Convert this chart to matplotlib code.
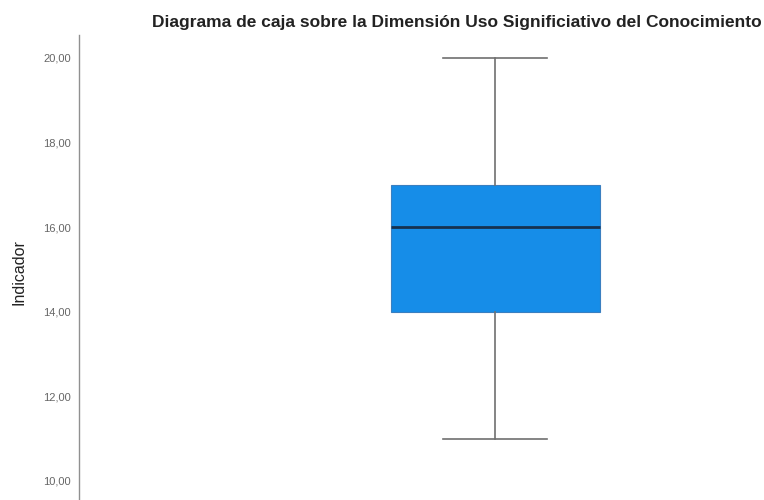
import matplotlib
matplotlib.use("Agg")
import matplotlib.pyplot as plt

# box summary
whisker_low = 11.0
q1 = 14.0
median = 16.0
q3 = 17.0
whisker_high = 20.0

yticks = [10, 12, 14, 16, 18, 20]
ytick_labels = ["10,00", "12,00", "14,00", "16,00", "18,00", "20,00"]

plt.rcParams["font.family"] = ["Liberation Sans", "DejaVu Sans"]

fig = plt.figure(figsize=(7.64, 5.0), dpi=100)
ax = fig.add_axes([79 / 764, 0.0, 1 - 79 / 764, 0.93])

stats = [dict(whislo=whisker_low, q1=q1, med=median, q3=q3, whishi=whisker_high, fliers=[])]
ax.bxp(stats, positions=[1], widths=0.5, capwidths=0.25, patch_artist=True,
       boxprops=dict(facecolor="#168de8", edgecolor="#3a7fc0", linewidth=0.8),
       medianprops=dict(color="#16314f", linewidth=2.0),
       whiskerprops=dict(color="#707070", linewidth=1.2),
       capprops=dict(color="#707070", linewidth=1.2))

ax.set_xlim(0, 1.645)
ax.set_ylim(9.55, 20.54)
ax.set_yticks(yticks)
ax.set_yticklabels(ytick_labels, fontsize=8, color="#666666")
ax.tick_params(axis="y", length=0, pad=6)
ax.set_xticks([])
for side in ["top", "right", "bottom"]:
    ax.spines[side].set_visible(False)
ax.spines["left"].set_color("#909090")
ax.spines["left"].set_linewidth(1.0)

ax.set_ylabel("Indicador", fontsize=11.5, color="#222222")
ax.yaxis.set_label_coords(-0.077, 0.49)
fig.text(0.598, 0.955, "Diagrama de caja sobre la Dimensión Uso Significiativo del Conocimiento",
         ha="center", va="center", fontsize=12.5, fontweight="bold", color="#222222")

fig.savefig("out.png", dpi=100)
